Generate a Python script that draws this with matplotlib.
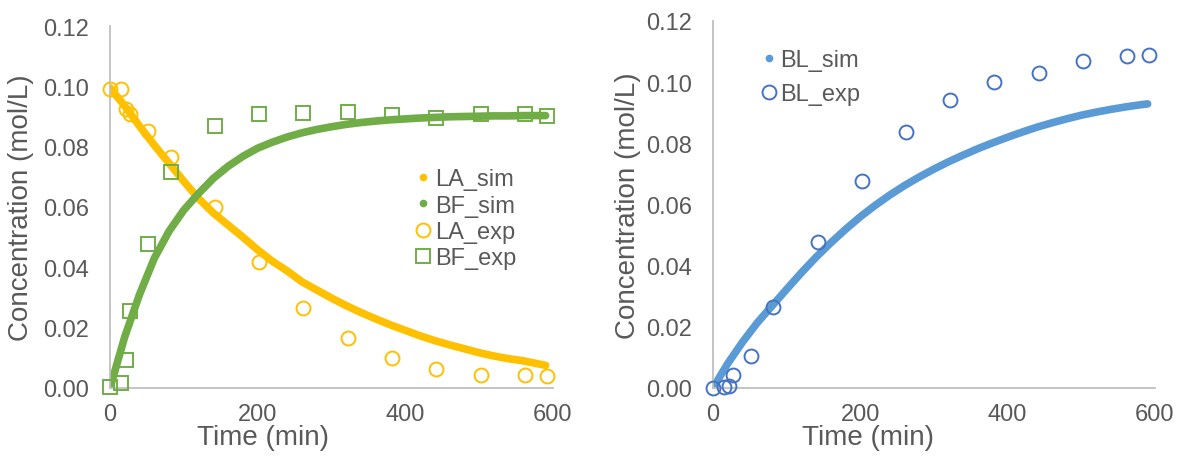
import matplotlib
matplotlib.use("Agg")
import matplotlib.pyplot as plt
from matplotlib.lines import Line2D

# -------------------------------
# data
# -------------------------------
t_exp = [0, 15, 22, 27, 52, 82, 142, 202, 262, 322, 382, 442, 502, 562, 592]
la_exp = [0.0992, 0.0992, 0.0925, 0.0909, 0.0852, 0.0766, 0.0600, 0.0418,
          0.0265, 0.0166, 0.0100, 0.0063, 0.0043, 0.0043, 0.0040]
bf_exp = [0.0003, 0.0017, 0.0093, 0.0255, 0.0478, 0.0716, 0.0869, 0.0909,
          0.0912, 0.0915, 0.0906, 0.0896, 0.0909, 0.0909, 0.0902]
bl_exp = [0.0000, 0.0003, 0.0007, 0.0043, 0.0105, 0.0265, 0.0477, 0.0676,
          0.0837, 0.0941, 0.1000, 0.1029, 0.1069, 0.1085, 0.1088]

t_sim = [0, 20, 40, 60, 80, 100, 120, 140, 160, 180, 200, 220, 240, 260, 280,
         300, 320, 340, 360, 380, 400, 420, 440, 460, 480, 500, 520, 540, 560,
         580, 590]
la_sim = [0.0995, 0.0935, 0.0868, 0.0805, 0.0745, 0.0685, 0.0628, 0.0580,
          0.0540, 0.0500, 0.0458, 0.0420, 0.0388, 0.0352, 0.0325, 0.0298,
          0.0273, 0.0250, 0.0229, 0.0209, 0.0191, 0.0173, 0.0157, 0.0143,
          0.0130, 0.0117, 0.0106, 0.0097, 0.0090, 0.0080, 0.0075]
bf_sim = [0.0000, 0.0170, 0.0310, 0.0430, 0.0520, 0.0590, 0.0645, 0.0695,
          0.0735, 0.0768, 0.0795, 0.0815, 0.0832, 0.0846, 0.0857, 0.0866,
          0.0874, 0.0880, 0.0885, 0.0889, 0.0892, 0.0895, 0.0897, 0.0899,
          0.0900, 0.0901, 0.0902, 0.0902, 0.0903, 0.0903, 0.0903]
bl_sim = [0.0000, 0.0080, 0.0150, 0.0213, 0.0268, 0.0323, 0.0377, 0.0428,
          0.0475, 0.0519, 0.0560, 0.0597, 0.0631, 0.0662, 0.0690, 0.0716,
          0.0740, 0.0762, 0.0783, 0.0802, 0.0820, 0.0837, 0.0853, 0.0867,
          0.0880, 0.0892, 0.0902, 0.0911, 0.0919, 0.0926, 0.0929]

x_ticks = [0, 200, 400, 600]
y_ticks = [0.00, 0.02, 0.04, 0.06, 0.08, 0.10, 0.12]

YELLOW = "#FFC000"
GREEN = "#70AD47"
BLUE_SIM = "#5B9BD5"
BLUE_EXP = "#4472C4"
TXT = "#595959"
AXC = "#BFBFBF"

plt.rcParams["font.family"] = ["Liberation Sans", "DejaVu Sans"]

fig = plt.figure(figsize=(11.81, 4.6), dpi=100)
ax1 = fig.add_axes([110 / 1181, 1 - 389 / 460, 443 / 1181, 362 / 460])
ax2 = fig.add_axes([713 / 1181, 1 - 389 / 460, 442 / 1181, 367 / 460])


def style_axes(ax, xlab_x, ylab_x, xlab_y):
    ax.set_xlim(0, 600)
    ax.set_ylim(0, 0.12)
    ax.set_xticks(x_ticks)
    ax.set_yticks(y_ticks)
    ax.set_yticklabels(["%.2f" % v for v in y_ticks])
    for s in ["top", "right"]:
        ax.spines[s].set_visible(False)
    for s in ["left", "bottom"]:
        ax.spines[s].set_color(AXC)
        ax.spines[s].set_linewidth(1.3)
    ax.tick_params(axis="both", length=0, labelsize=17, labelcolor=TXT)
    ax.tick_params(axis="y", pad=15)
    ax.tick_params(axis="x", pad=11)
    ax.set_xlabel("Time (min)", fontsize=20, color=TXT, va="center")
    ax.set_ylabel("Concentration (mol/L)", fontsize=20, color=TXT, va="center")
    ax.xaxis.set_label_coords(xlab_x, xlab_y)
    ax.yaxis.set_label_coords(ylab_x, 0.5)


# -------------------------------
# left panel
# -------------------------------
ax1.plot(t_sim, la_sim, color=YELLOW, lw=5.5, solid_capstyle="round", zorder=2)
ax1.plot(t_sim, bf_sim, color=GREEN, lw=5.5, solid_capstyle="round", zorder=2)
ax1.plot(t_exp, la_exp, ls="none", marker="o", ms=10, mfc="none",
         mec=YELLOW, mew=1.4, zorder=3, clip_on=False)
ax1.plot(t_exp, bf_exp, ls="none", marker="s", ms=10, mfc="none",
         mec=GREEN, mew=1.4, zorder=3, clip_on=False)
style_axes(ax1, 0.345, -0.201, -0.135)

h1 = [
    Line2D([], [], ls="none", marker="o", ms=4.5, color=YELLOW),
    Line2D([], [], ls="none", marker="o", ms=4.5, color=GREEN),
    Line2D([], [], ls="none", marker="o", ms=10, mfc="none", mec=YELLOW, mew=1.4),
    Line2D([], [], ls="none", marker="s", ms=10, mfc="none", mec=GREEN, mew=1.4),
]
leg1 = ax1.legend(h1, ["LA_sim", "BF_sim", "LA_exp", "BF_exp"],
                  loc="upper left", bbox_to_anchor=(0.691, 0.607),
                  frameon=False, fontsize=17, handlelength=0.6,
                  handletextpad=0.2, labelspacing=0.18, borderpad=0,
                  borderaxespad=0)
for t in leg1.get_texts():
    t.set_color(TXT)

# -------------------------------
# right panel
# -------------------------------
ax2.plot(t_sim, bl_sim, color=BLUE_SIM, lw=5.5, solid_capstyle="round", zorder=2)
ax2.plot(t_exp, bl_exp, ls="none", marker="o", ms=10, mfc="none",
         mec=BLUE_EXP, mew=1.4, zorder=3, clip_on=False)
style_axes(ax2, 0.351, -0.192, -0.1335)

h2 = [
    Line2D([], [], ls="none", marker="o", ms=4.5, color=BLUE_SIM),
    Line2D([], [], ls="none", marker="o", ms=10, mfc="none", mec=BLUE_EXP, mew=1.4),
]
leg2 = ax2.legend(h2, ["BL_sim", "BL_exp"], loc="upper left",
                  bbox_to_anchor=(0.11, 0.923), frameon=False, fontsize=17,
                  handlelength=0.6, handletextpad=0.2, labelspacing=0.5,
                  borderpad=0, borderaxespad=0)
for t in leg2.get_texts():
    t.set_color(TXT)

fig.savefig("out.png", dpi=100)
